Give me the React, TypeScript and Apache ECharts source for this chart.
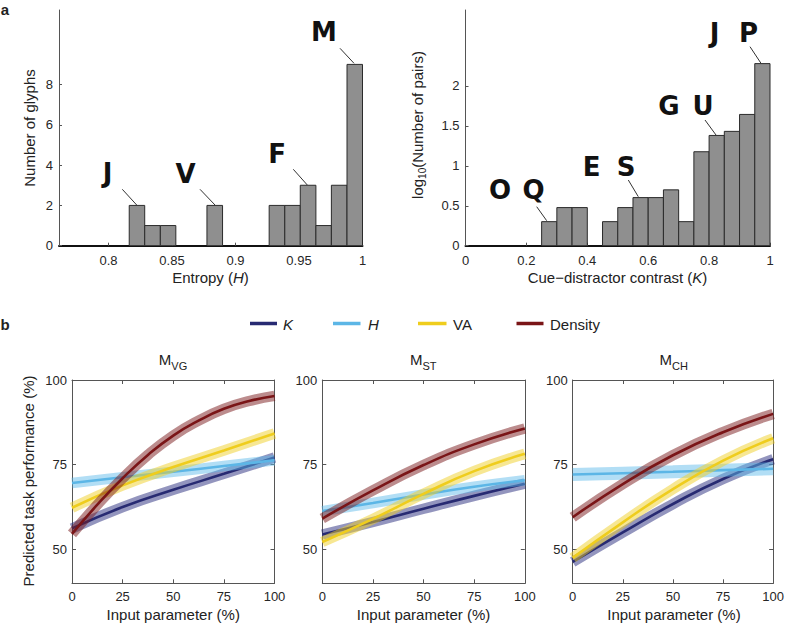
import React, { useEffect, useRef } from 'react';
import * as echarts from 'echarts';

// ---------- Panel a: histograms ----------
const entropyBinEdges = [0.755, 0.7673, 0.7795, 0.7918, 0.804, 0.8163, 0.8285, 0.8408, 0.853, 0.8653, 0.8775, 0.8898, 0.902, 0.9143, 0.9265, 0.9388, 0.951, 0.9633, 0.9755, 0.9878, 1];
const glyphCounts = [0, 0, 0, 0, 0, 2, 1, 1, 0, 0, 2, 0, 0, 0, 2, 2, 3, 1, 3, 9];
const entropyTicks = [0.8, 0.85, 0.9, 0.95, 1];
const glyphTicks = [0, 2, 4, 6, 8];

const contrastBinEdges = [0, 0.05, 0.1, 0.15, 0.2, 0.25, 0.3, 0.35, 0.4, 0.45, 0.5, 0.55, 0.6, 0.65, 0.7, 0.75, 0.8, 0.85, 0.9, 0.95, 1];
const logPairCounts = [0, 0, 0, 0, 0, 0.301, 0.477, 0.477, 0, 0.301, 0.477, 0.602, 0.602, 0.699, 0.301, 1.176, 1.38, 1.431, 1.643, 2.279];
const contrastTicks = [0, 0.2, 0.4, 0.6, 0.8, 1];
const logPairTicks = [0, 0.5, 1, 1.5, 2];

// ---------- Panel b: predicted performance ----------
const inputPct = [0, 25, 50, 75, 100];
const inputPctFine = [0, 12.5, 25, 37.5, 50, 62.5, 75, 87.5, 100];
const perfTicks = [50, 75, 100];

const vgK = [56.2, 62.5, 67.6, 72.3, 77.1];
const vgH = [69.6, 71.3, 72.9, 74.6, 76.3];
const vgVA = [62.3, 68.9, 74.3, 79.2, 84.2];
const vgDensity = [54.6, 63.2, 71.0, 77.9, 83.6, 88.0, 91.5, 93.8, 95.3];

const stK = [54.4, 58.1, 62.0, 65.8, 69.4];
const stH = [61.3, 63.7, 66.2, 68.5, 70.4];
const stVA = [52.2, 59.0, 66.4, 73.1, 78.2];
const stDensity = [59.1, 67.4, 74.9, 81.0, 85.7];

const chK = [46.3, 55.0, 63.4, 70.8, 76.6];
const chH = [72.1, 72.5, 72.9, 73.4, 73.8];
const chVA = [47.5, 58.0, 67.8, 76.2, 82.8];
const chDensity = [59.5, 69.3, 77.8, 84.6, 90.0];

const seriesNames = ['K', 'H', 'VA', 'Density'];
const panelTitles = [['M', 'VG'], ['M', 'ST'], ['M', 'CH']];
const panelCurves = [
  [vgK, vgH, vgVA, vgDensity],
  [stK, stH, stVA, stDensity],
  [chK, chH, chVA, chDensity],
];
const panelXs = [
  [inputPct, inputPct, inputPct, inputPctFine],
  [inputPct, inputPct, inputPct, inputPct],
  [inputPct, inputPct, inputPct, inputPct],
];

const lineColors = ['#272a72', '#5cb6e6', '#efcd1d', '#7a1517'];
const bandColors = ['rgba(40,44,125,0.5)', 'rgba(95,185,235,0.48)', 'rgba(240,208,40,0.5)', 'rgba(122,25,28,0.5)'];

const FONT = '"Liberation Sans", Arial, Helvetica, sans-serif';
const LETTER_FONT = '"DejaVu Sans", sans-serif';
const TXT = '#222';
const AX = '#555';

const histItem = (params: any, api: any) => {
  const h = api.value(2);
  if (!h) return { type: 'group', children: [] };
  const a = api.coord([api.value(0), 0]);
  const b = api.coord([api.value(1), h]);
  return {
    type: 'rect',
    shape: { x: a[0], y: b[1], width: b[0] - a[0], height: a[1] - b[1] },
    style: { fill: '#8f8f8f', stroke: '#2b2b2b', lineWidth: 1 },
  };
};

const txt = (text: string, x: number, y: number, extra: any = {}, el: any = {}) => ({
  type: 'text',
  x,
  y,
  silent: true,
  ...el,
  style: {
    text,
    fill: TXT,
    fontFamily: FONT,
    fontSize: 15,
    textAlign: 'center',
    textVerticalAlign: 'middle',
    align: 'center',
    verticalAlign: 'middle',
    ...extra,
  },
});

const lineEl = (x1: number, y1: number, x2: number, y2: number, stroke = '#333', lineWidth = 1) => ({
  type: 'line',
  silent: true,
  shape: { x1, y1, x2, y2 },
  style: { stroke, lineWidth },
});

export default function App() {
  const ref = useRef<HTMLDivElement>(null);

  useEffect(() => {
    document.body.style.margin = '0';
    if (!ref.current) return;
    const chart = echarts.init(ref.current, undefined, { renderer: 'svg' });

    const panelLefts = [72, 322.3, 572.7];
    const grids: any[] = [
      { left: 59, top: 10, width: 303.5, height: 235.7 },
      { left: 465.5, top: 10, width: 304.5, height: 235.7 },
      ...panelLefts.map((l) => ({ left: l, top: 380, width: 202.5, height: 203.3 })),
    ];

    const labelStyle = { fontFamily: FONT, fontSize: 13, color: '#262626' };

    const xAxes: any[] = [
      {
        gridIndex: 0, type: 'value', min: 0.761, max: 1,
        axisLine: { onZero: false, lineStyle: { color: '#111', width: 2 } },
        axisTick: { inside: true, length: 3, customValues: entropyTicks, lineStyle: { color: AX } },
        axisLabel: { ...labelStyle, margin: 8, customValues: entropyTicks },
        splitLine: { show: false },
      },
      {
        gridIndex: 1, type: 'value', min: 0, max: 1,
        axisLine: { onZero: false, lineStyle: { color: '#111', width: 2 } },
        axisTick: { inside: true, length: 3, customValues: contrastTicks, lineStyle: { color: AX } },
        axisLabel: { ...labelStyle, margin: 8, customValues: contrastTicks },
        splitLine: { show: false },
      },
    ];
    const yAxes: any[] = [
      {
        gridIndex: 0, type: 'value', min: 0, max: 11.7,
        axisLine: { show: true, onZero: false, lineStyle: { color: AX, width: 1 } },
        axisTick: { show: true, inside: true, length: 3, customValues: glyphTicks, lineStyle: { color: AX } },
        axisLabel: { ...labelStyle, margin: 6, customValues: glyphTicks },
        splitLine: { show: false },
      },
      {
        gridIndex: 1, type: 'value', min: 0, max: 2.95,
        axisLine: { show: true, onZero: false, lineStyle: { color: AX, width: 1 } },
        axisTick: { show: true, inside: true, length: 3, customValues: logPairTicks, lineStyle: { color: AX } },
        axisLabel: { ...labelStyle, margin: 6, customValues: logPairTicks },
        splitLine: { show: false },
      },
    ];

    for (let p = 0; p < 3; p++) {
      const g = p + 2;
      xAxes.push({
        gridIndex: g, type: 'value', min: 0, max: 100, interval: 25, position: 'bottom',
        axisLine: { onZero: false, lineStyle: { color: AX, width: 1 } },
        axisTick: { inside: true, length: 4, lineStyle: { color: AX } },
        axisLabel: { ...labelStyle, margin: 7 },
        splitLine: { show: false },
      });
      xAxes.push({
        gridIndex: g, type: 'value', min: 0, max: 100, interval: 25, position: 'top',
        axisLine: { onZero: false, lineStyle: { color: AX, width: 1 } },
        axisTick: { inside: true, length: 4, lineStyle: { color: AX } },
        axisLabel: { show: false },
        splitLine: { show: false },
      });
      yAxes.push({
        gridIndex: g, type: 'value', min: 40, max: 100, position: 'left',
        axisLine: { show: true, onZero: false, lineStyle: { color: AX, width: 1 } },
        axisTick: { show: true, inside: true, length: 4, customValues: perfTicks, lineStyle: { color: AX } },
        axisLabel: { ...labelStyle, margin: 5, customValues: perfTicks },
        splitLine: { show: false },
      });
      yAxes.push({
        gridIndex: g, type: 'value', min: 40, max: 100, position: 'right',
        axisLine: { show: true, onZero: false, lineStyle: { color: AX, width: 1 } },
        axisTick: { show: true, inside: true, length: 4, customValues: [50, 75], lineStyle: { color: AX } },
        axisLabel: { show: false },
        splitLine: { show: false },
      });
    }

    const series: any[] = [
      {
        type: 'custom', name: 'Glyph entropy', xAxisIndex: 0, yAxisIndex: 0, clip: true,
        renderItem: histItem, encode: { x: [0, 1], y: 2 },
        data: glyphCounts.map((c, i) => [entropyBinEdges[i], entropyBinEdges[i + 1], c]),
      },
      {
        type: 'custom', name: 'Cue-distractor contrast', xAxisIndex: 1, yAxisIndex: 1, clip: true,
        renderItem: histItem, encode: { x: [0, 1], y: 2 },
        data: logPairCounts.map((c, i) => [contrastBinEdges[i], contrastBinEdges[i + 1], c]),
      },
    ];

    for (let p = 0; p < 3; p++) {
      for (let s = 0; s < 4; s++) {
        const xs = panelXs[p][s];
        const ys = panelCurves[p][s];
        const data = xs.map((x, i) => [x, ys[i]]);
        const bandW = p === 2 && s === 1 ? 13 : 10.5;
        series.push({
          type: 'line', name: seriesNames[s] + ' CI', xAxisIndex: 2 + 2 * p, yAxisIndex: 2 + 2 * p,
          data, smooth: true, showSymbol: false, silent: true, clip: true,
          lineStyle: { color: bandColors[s], width: bandW, cap: 'butt' },
          itemStyle: { color: bandColors[s] },
        });
        series.push({
          type: 'line', name: seriesNames[s], xAxisIndex: 2 + 2 * p, yAxisIndex: 2 + 2 * p,
          data, smooth: true, showSymbol: false, silent: true, clip: true,
          lineStyle: { color: lineColors[s], width: 2.6, cap: 'butt' },
          itemStyle: { color: lineColors[s] },
        });
      }
    }

    const italicRich = { i: { fontStyle: 'italic', fontFamily: FONT, fontSize: 15, fill: TXT } };
    const graphics: any[] = [
      // panel labels
      txt('a', 5, 9.8, { fontWeight: 'bold', fontSize: 15 }),
      txt('b', 5, 324.8, { fontWeight: 'bold', fontSize: 15 }),
      // axis titles panel a
      txt('Number of glyphs', 29, 128, {}, { rotation: Math.PI / 2 }),
      txt('Entropy ({i|H})', 210.5, 277.5, { rich: italicRich }),
      txt('Cue\u2212distractor contrast ({i|K})', 617.5, 277.5, { rich: italicRich }),
      {
        type: 'group', x: 417.5, y: 125, rotation: Math.PI / 2, silent: true,
        children: [
          txt('log', -53.9, 0, { textAlign: 'right', align: 'right' }),
          txt('10', -53.9, 4.5, { textAlign: 'left', align: 'left', fontSize: 10 }),
          txt('(Number of pairs)', -42.8, 0, { textAlign: 'left', align: 'left' }),
        ],
      },
      // panel b y title
      txt('Predicted task performance (%)', 28.5, 481, {}, { rotation: Math.PI / 2 }),
    ];

    // histogram annotations
    const letterStyle = { fontFamily: LETTER_FONT, fontWeight: 'bold', fontSize: 26, fill: '#111' };
    const letters: [string, number, number][] = [
      ['J', 107.5, 173], ['V', 185.5, 173.5], ['F', 277, 153.5], ['M', 324, 31.5],
      ['O', 500, 189.5], ['Q', 533.5, 189.5], ['E', 591.7, 166.5], ['S', 626, 166.5],
      ['G', 669, 105.5], ['U', 703, 105.5], ['J', 714.5, 33], ['P', 748.5, 33],
    ];
    letters.forEach(([t, x, y]) => graphics.push(txt(t, x, y, letterStyle)));
    const leaders: [number, number, number, number][] = [
      [122.3, 189.3, 136.7, 205], [200, 189.3, 215, 205], [293.3, 169.3, 307.3, 185], [340, 48.3, 354, 63.3],
      [536.7, 206.7, 546.7, 220.7], [628.3, 180, 638.3, 196.7], [705, 120, 716, 135], [750, 46.7, 761, 63.3],
    ];
    leaders.forEach(([a, b, c, d]) => graphics.push(lineEl(a, b, c, d, '#333', 1)));

    // legend
    const legendPos: [number, number, number][] = [
      [250, 277, 283], [333, 360.5, 368], [418, 446.5, 453], [516.5, 543.5, 550],
    ];
    legendPos.forEach(([x1, x2, tx], i) => {
      graphics.push(lineEl(x1, 323.5, x2, 323.5, lineColors[i], 3.5));
      const italic = i < 2;
      graphics.push(txt(seriesNames[i], tx, 324, { textAlign: 'left', align: 'left', fontStyle: italic ? 'italic' : 'normal' }));
    });

    // subplot titles and x titles
    const splitX = [171.3, 422.5, 672];
    for (let p = 0; p < 3; p++) {
      const center = panelLefts[p] + 101.25;
      graphics.push(txt(panelTitles[p][0], splitX[p], 359.8, { textAlign: 'right', align: 'right' }));
      graphics.push(txt(panelTitles[p][1], splitX[p], 366.2, { textAlign: 'left', align: 'left', fontSize: 11 }));
      graphics.push(txt('Input parameter (%)', center, 614));
    }

    chart.setOption({
      animation: false,
      backgroundColor: '#ffffff',
      grid: grids,
      xAxis: xAxes,
      yAxis: yAxes,
      series,
      graphic: { elements: graphics },
    });

    return () => chart.dispose();
  }, []);

  return (
    <div
      ref={ref}
      style={{ position: 'fixed', left: 0, top: 0, width: 787, height: 624, background: '#fff' }}
    />
  );
}
